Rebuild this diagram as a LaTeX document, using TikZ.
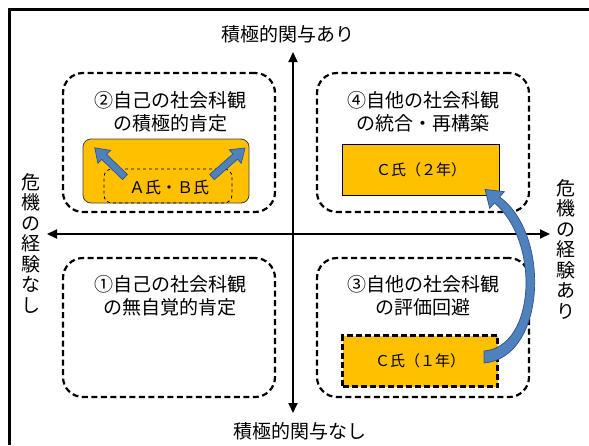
\documentclass[tikz,border=0pt]{standalone}
\usepackage{fontspec}
\setmainfont{Noto Sans CJK JP}
\usetikzlibrary{arrows.meta}
\definecolor{gold}{HTML}{FFC000}
\definecolor{arrfill}{HTML}{4F81BD}
\definecolor{arrline}{HTML}{2F528F}
\newcommand{\blockarr}[4]{%
  \begin{scope}[shift={(#1,#2)},rotate=#3]
    \filldraw[arrblk] (0,-3.5)--(#4-13,-3.5)--(#4-13,-9)--(#4,0)--(#4-13,9)--(#4-13,3.5)--(0,3.5)--cycle;
  \end{scope}}
\begin{document}
\begin{tikzpicture}[x=1pt,y=-1pt,
  quad/.style={draw, line width=2.2pt, dash pattern=on 6pt off 3.5pt, rounded corners=20pt, minimum width=212pt, minimum height=139pt, inner sep=0pt},
  qlabel/.style={font=\fontsize{19}{23}\selectfont, align=center, inner sep=0pt},
  axlabel/.style={font=\fontsize{19}{23}\selectfont, inner sep=0pt},
  vlabel/.style={font=\fontsize{19}{20.5}\selectfont, align=center, inner sep=0pt},
  axis/.style={line width=1.8pt, {Triangle[length=10pt,width=9pt]}-{Triangle[length=10pt,width=9pt]}},
  cbox/.style={fill=gold, font=\fontsize{15}{18}\selectfont, inner sep=0pt},
  arrblk/.style={fill=arrfill, draw=arrline, line width=0.7pt, line join=miter}]
\useasboundingbox (0,0) rectangle (589,445);
% frame
\draw[line width=3pt] (9,445) -- (9,9) -- (589,9);
% quadrants
\node[quad] (q2) at (169,142.5) {};
\node[quad] (q4) at (423,142.5) {};
\node[quad] (q1) at (169,327.5) {};
\node[quad] (q3) at (423,327.5) {};
% axes
\coordinate (axL) at (47,234);
\coordinate (axR) at (550,234);
\coordinate (axT) at (293,52);
\coordinate (axB) at (293,413);
\draw[axis] (axL) -- (axR);
\draw[axis] (axT) -- (axB);
% axis labels
\node[axlabel] (top) at (288,34) {積極的関与あり};
\node[axlabel] (bot) at (300,431) {積極的関与なし};
\node[vlabel] (lft) at (31,243) {危\\機\\の\\経\\験\\な\\し};
\node[vlabel] (rgt) at (566,249) {危\\機\\の\\経\\験\\あ\\り};
% quadrant titles
\node[qlabel] (t2) at (170,112) {②自己の社会科観\\の積極的肯定};
\node[qlabel] (t4) at (423,112) {④自他の社会科観\\の統合・再構築};
\node[qlabel] (t1) at (170,296) {①自己の社会科観\\の無自覚的肯定};
\node[qlabel] (t3) at (423,296) {③自他の社会科観\\の評価回避};
% Q2 content
\node[fill=gold, draw=black!75, line width=0.8pt, rounded corners=8pt, minimum width=166pt, minimum height=64pt, inner sep=0pt] (ab) at (166,171) {};
\node[draw, dashed, line width=0.8pt, rounded corners=8pt, minimum width=128pt, minimum height=34pt, inner sep=0pt] (abin) at (168,186) {};
\node[font=\fontsize{16}{18}\selectfont, inner sep=0pt] (abt) at (169,187) {Ａ氏・Ｂ氏};
\blockarr{125}{177}{136}{42}
\blockarr{212}{177}{41.3}{44}
% Q4 content
\node[cbox, draw, line width=0.9pt, minimum width=157pt, minimum height=51pt] (c2) at (421,170) {Ｃ氏（２年）};
% Q3 content
\node[cbox, draw, line width=2.5pt, dash pattern=on 6pt off 3pt, minimum width=155pt, minimum height=51pt] (c1) at (420,361) {Ｃ氏（１年）};
% curved arrow from C1 to C2
\filldraw[arrblk] (484,363) .. controls (546,358) and (551,234) .. (499.6,197)
  -- (504.3,191.7) -- (485,189.4) -- (489.7,208.3) -- (494.4,203)
  .. controls (540,241) and (536,347) .. (484,351) -- cycle;
\end{tikzpicture}
\end{document}
